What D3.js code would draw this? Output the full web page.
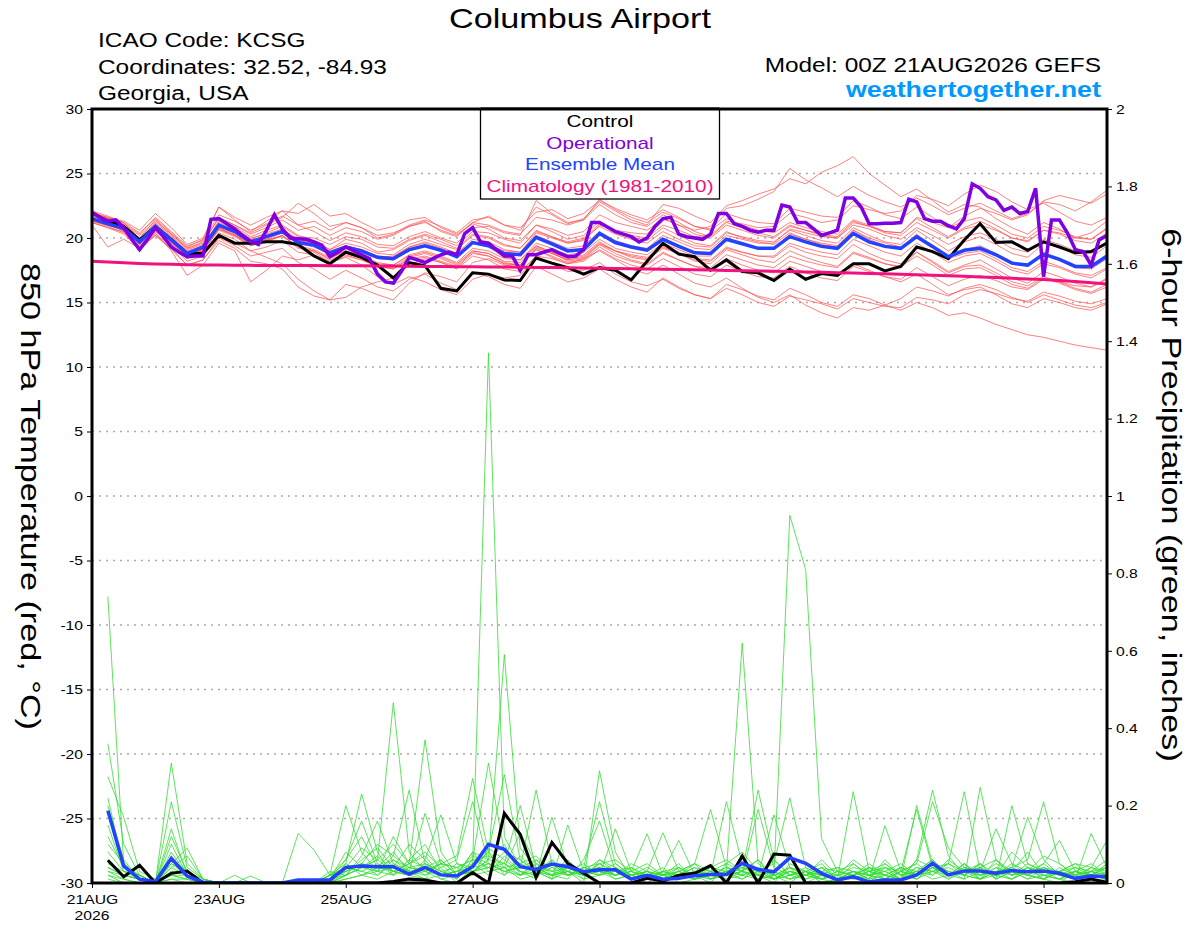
<!DOCTYPE html>
<html><head><meta charset="utf-8">
<script src="https://cdn.jsdelivr.net/npm/d3@7"></script>
<style>html,body{margin:0;padding:0;background:#fff;}svg{display:block;font-family:"Liberation Sans",Arial,Helvetica,sans-serif;}</style>
</head><body><svg id="chart" width="1200" height="927"></svg>
<script>
// ---------------- DATA ----------------
const titleText = "Columbus Airport";
const infoLines = ["ICAO Code: KCSG", "Coordinates: 32.52, -84.93", "Georgia, USA"];
const modelText = "Model: 00Z 21AUG2026 GEFS";
const siteText = "weathertogether.net";
const legendLabels = ["Control", "Operational", "Ensemble Mean", "Climatology (1981-2010)"];
const tempTicks = [-30,-25,-20,-15,-10,-5,0,5,10,15,20,25,30];
const gridTicks = [-25,-20,-15,-10,-5,0,5,10,15,20,25];
const precipTicks = [0,0.2,0.4,0.6,0.8,1,1.2,1.4,1.6,1.8,2];
const dateTickHours = [0,48,96,144,192,264,312,360];
const dateTickLabels = ["21AUG","23AUG","25AUG","27AUG","29AUG","1SEP","3SEP","5SEP"];
const yearLabel = "2026";
const tempStepHours = 6, opStepHours = 3, precipStepHours = 6, maxHours = 384;

// 850 hPa temperature, 6-hourly from 00Z 21AUG
const controlTemp = [21.95,21.3,20.9,19.85,20.9,19.9,18.8,18.8,20.2,19.6,
19.6,19.7,19.7,19.5,18.6,18.0,18.9,18.5,17.9,16.9,
18.1,17.85,16.1,15.9,17.3,17.2,16.75,16.7,18.45,18.05,
17.7,17.2,17.7,17.5,16.75,18.2,19.6,18.75,18.55,17.5,
18.3,17.4,17.3,16.7,17.6,16.8,17.25,17.1,18.0,18.0,
17.45,17.8,19.3,18.95,18.4,19.85,21.1,19.65,19.7,19.05,
19.7,19.3,18.85,18.95,19.6];

const meanTemp = [21.5,21.1,20.75,19.7,20.9,19.85,18.8,19.3,21.0,20.5,
19.7,20.1,20.5,19.65,19.45,18.85,19.3,19.0,18.5,18.4,
19.1,19.4,19.05,18.55,19.65,19.4,18.8,18.7,20.05,19.55,
19.0,19.1,20.35,19.65,19.3,19.05,19.9,19.35,18.85,18.8,
19.9,19.55,19.2,19.2,20.1,19.7,19.35,19.2,20.35,19.7,
19.35,19.2,20.1,19.35,18.55,19.05,19.2,18.7,18.05,17.9,
18.75,18.35,17.8,17.8,18.6];

// operational run, 3-hourly
const operationalTemp = [22.0,21.6,21.3,21.4,20.8,19.9,19.1,19.9,20.8,20.1,
19.3,18.9,18.55,18.6,18.6,21.45,21.5,21.1,20.7,20.2,
19.75,19.5,20.6,21.8,20.7,20.0,19.95,19.9,19.7,19.45,
18.55,18.9,19.3,19.0,18.7,18.4,17.2,16.6,16.5,17.4,
18.5,18.3,18.1,18.4,18.7,18.9,18.7,20.35,20.8,19.7,
19.6,19.1,18.6,18.6,17.5,18.7,18.7,18.9,19.1,18.8,
18.55,18.6,19.1,21.2,21.2,20.85,20.5,20.3,20.1,19.7,
20.0,20.9,21.5,21.6,20.3,20.1,20.0,19.9,20.3,21.9,
21.9,21.1,20.9,20.6,20.45,20.6,20.6,22.55,22.4,21.2,
21.2,20.7,20.2,20.4,20.6,23.1,23.1,22.4,21.1,21.1,
21.15,21.15,21.2,23.0,22.8,21.5,21.3,21.3,20.95,20.7,
21.5,24.2,23.85,23.2,22.95,22.15,22.4,21.9,22.05,23.85,
17.0,21.4,21.4,20.4,19.1,18.95,17.9,19.85,20.2];

const climatologyTemp = [18.2,18.14,18.08,18.03,17.99,17.96,17.93,17.91,17.9,17.89,
17.88,17.87,17.87,17.86,17.86,17.85,17.85,17.84,17.83,17.82,
17.81,17.8,17.79,17.78,17.77,17.76,17.75,17.74,17.72,17.71,
17.69,17.67,17.65,17.63,17.61,17.59,17.57,17.55,17.53,17.51,
17.49,17.47,17.45,17.42,17.4,17.37,17.34,17.31,17.28,17.25,
17.22,17.19,17.15,17.11,17.07,17.03,16.98,16.93,16.88,16.83,
16.78,16.7,16.62,16.53,16.43];

// ensemble members (red)
const tempMembers = [
[21.8,21.5,21.0,20.2,21.3,20.3,19.2,19.6,21.6,21.0,20.3,20.8,21.4,20.6,20.9,20.2,20.8,20.5,19.9,20.2,20.9,21.3,20.5,20.1,21.2,21.7,21.0,20.6,22.4,21.8,21.1,21.5,22.8,22.1,21.4,21.0,22.6,22.3,21.7,21.2,22.5,22.9,23.4,23.8,24.6,24.2,25.1,25.6,26.3,25.0,24.1,23.2,23.8,22.9,22.0,22.6,22.4,21.5,20.8,20.3,21.2,20.7,20.0,20.4,21.3],
[21.3,20.9,20.4,19.3,20.2,19.2,17.9,18.3,20.0,19.4,18.6,18.9,19.2,18.1,17.6,16.8,17.5,16.9,16.2,15.9,16.8,17.2,16.5,16.0,17.3,17.0,16.4,16.1,17.8,17.2,16.6,16.9,17.6,16.8,16.2,15.8,16.9,16.2,15.6,15.3,16.4,16.0,15.5,15.2,16.1,15.6,15.0,14.7,15.6,15.3,14.8,14.4,15.0,14.6,14.0,14.2,13.8,13.3,12.9,12.5,12.3,12.0,11.7,11.5,11.3],
[22.1,21.7,21.2,19.9,21.1,20.1,19.0,19.4,21.3,20.9,20.1,20.6,21.0,20.2,19.8,19.1,19.9,19.6,18.9,19.1,19.8,20.2,19.7,19.2,20.3,20.1,19.5,19.2,20.6,20.1,19.6,19.9,20.9,20.3,19.9,19.6,20.5,19.9,19.4,19.3,20.4,20.1,19.8,19.7,20.6,20.2,19.8,19.6,20.8,20.2,19.7,19.5,20.6,19.8,19.0,19.7,20.1,19.5,18.8,18.5,19.6,19.3,18.7,18.5,19.4],
[21.6,21.2,20.7,19.5,20.6,19.5,18.4,18.8,20.4,19.9,19.0,18.5,18.0,16.8,15.9,15.2,16.4,16.1,15.6,15.2,16.5,17.3,17.0,16.6,18.1,18.4,17.9,17.7,19.2,18.8,18.3,18.6,19.6,19.0,18.5,18.3,19.2,18.8,18.2,18.0,19.1,18.7,18.3,18.1,19.0,18.5,18.1,17.8,18.9,18.5,18.0,17.7,18.9,18.2,17.4,17.9,18.3,17.6,16.9,16.5,17.4,17.0,16.5,16.2,16.8],
[21.9,21.6,21.3,20.6,21.9,20.8,19.5,20.0,22.4,21.6,21.0,21.6,22.1,21.9,22.6,21.7,21.9,21.2,20.6,20.9,21.4,21.6,20.8,20.3,21.1,20.7,20.0,19.8,21.0,20.5,19.9,20.2,21.3,20.5,20.1,19.8,20.8,20.2,19.6,19.4,20.5,20.0,19.7,19.5,20.4,19.9,19.5,19.3,20.6,19.9,19.4,19.2,20.3,19.3,18.6,19.1,19.4,18.8,18.1,17.8,18.7,18.3,17.7,17.6,18.4],
[21.4,21.0,20.6,19.6,20.8,19.7,18.6,19.2,20.8,20.3,19.6,19.9,20.4,19.6,19.3,18.7,19.2,18.9,18.4,18.3,19.0,19.4,19.0,18.5,19.7,19.5,19.0,18.9,20.4,20.0,19.6,19.8,21.0,20.6,20.4,20.3,21.5,21.0,20.6,20.9,22.3,22.5,23.0,23.6,25.4,24.5,23.9,23.2,24.0,23.3,22.8,22.4,23.1,22.5,21.8,22.3,22.7,22.1,21.5,21.9,22.8,22.6,22.1,22.8,23.7],
[21.2,20.8,20.5,19.4,20.5,19.6,18.7,19.0,20.6,20.1,19.4,19.7,20.2,19.3,19.0,18.3,18.8,18.4,17.8,17.6,18.3,18.5,18.1,17.6,18.6,18.3,17.6,17.4,18.6,18.0,17.4,17.5,18.1,17.2,16.6,16.3,16.8,16.1,15.6,15.3,16.1,15.6,15.0,14.7,15.5,15.2,14.9,14.5,15.3,15.0,14.7,14.6,15.4,15.2,14.9,15.6,16.0,15.7,15.3,15.1,15.8,15.5,15.1,14.9,15.3],
[21.7,21.3,20.9,19.8,21.0,19.9,18.9,19.4,21.1,20.6,19.9,20.4,20.9,20.1,20.0,19.5,20.1,19.9,19.3,19.2,19.9,20.3,19.9,19.4,20.5,20.4,19.9,19.6,21.0,20.7,20.2,20.5,21.8,21.2,20.9,20.6,21.5,21.0,20.3,20.0,21.0,20.6,20.2,20.0,20.9,20.6,20.3,20.1,21.3,20.9,20.4,20.2,21.2,20.6,20.0,20.7,21.0,20.6,20.0,19.7,20.6,20.3,19.8,19.6,20.4],
[21.5,21.1,20.8,19.7,20.8,19.8,18.7,19.1,20.9,20.4,19.8,20.1,20.6,19.8,19.6,19.0,19.4,19.1,18.5,18.6,19.3,19.6,19.2,18.8,19.6,19.3,18.5,18.3,19.4,18.9,18.2,18.4,19.0,18.3,17.6,17.2,17.9,17.2,16.5,16.2,16.9,16.1,15.4,15.0,15.6,14.8,14.2,13.8,14.6,14.4,14.8,15.3,16.2,15.9,15.5,16.1,16.4,16.0,15.4,15.0,15.6,15.2,14.8,14.6,15.0],
[21.8,21.4,21.0,19.9,21.2,20.2,19.1,19.5,21.2,20.7,20.0,20.3,20.7,19.9,19.7,19.1,19.6,19.3,18.8,18.7,19.5,19.9,19.5,19.1,20.2,20.0,19.4,19.2,20.5,20.1,19.7,20.0,21.1,20.5,20.2,20.0,21.0,20.6,20.1,20.2,21.3,21.1,20.8,20.9,21.9,21.6,21.2,21.4,22.5,22.2,21.9,22.1,23.3,23.0,22.5,23.4,24.1,23.6,22.8,22.2,22.7,22.0,21.3,21.0,21.6],
[21.0,19.3,19.9,19.2,20.3,19.4,18.2,18.6,20.1,19.6,19.0,19.3,19.8,18.9,18.7,18.0,18.6,18.3,17.8,17.7,18.5,18.8,18.4,17.9,19.0,18.8,18.2,18.1,19.4,18.9,18.4,18.7,19.7,19.0,18.7,18.5,19.4,18.9,18.4,18.3,19.3,18.9,18.6,18.5,19.4,18.9,18.6,18.4,19.5,18.8,18.3,18.0,18.9,18.1,17.3,17.8,17.9,17.3,16.6,16.3,17.0,16.6,16.1,15.8,16.4],
[22.0,21.6,21.1,20.3,21.6,20.5,19.4,19.8,21.8,21.3,20.6,21.1,21.7,21.0,21.3,20.6,21.2,20.8,20.0,20.3,21.0,21.4,20.9,20.4,21.4,21.6,21.0,20.8,22.0,22.2,21.5,21.9,22.9,22.3,21.8,21.4,22.2,21.6,20.9,20.6,21.5,21.0,20.6,20.4,21.2,20.8,20.5,20.3,21.4,21.0,20.5,20.4,21.5,20.8,20.1,20.8,21.3,20.7,20.0,19.8,20.6,20.4,20.0,19.9,20.8],
[21.3,21.0,20.6,19.5,20.7,19.6,18.5,19.0,20.7,20.2,19.4,19.8,20.2,19.2,19.0,18.4,19.0,18.6,18.1,17.9,18.7,19.0,18.6,18.1,19.2,19.0,18.4,18.3,19.6,19.2,18.7,18.9,19.9,19.2,18.9,18.7,19.6,19.1,18.6,18.6,19.8,19.5,19.2,19.2,20.3,19.9,19.6,19.4,20.6,20.0,19.6,19.3,20.0,19.2,18.4,18.8,19.0,18.4,17.7,17.4,18.2,17.8,17.3,17.1,17.7],
[21.6,21.2,20.5,19.3,20.4,19.0,17.1,17.9,19.6,19.0,16.6,17.5,18.6,18.3,18.7,18.2,18.7,18.3,17.8,17.6,18.4,18.6,18.2,17.8,18.9,18.6,18.0,17.9,19.1,18.6,18.1,18.3,19.3,18.6,18.2,17.9,18.8,18.3,17.8,17.7,18.7,18.3,17.9,17.7,18.6,18.2,17.9,17.7,18.8,18.4,18.0,17.8,18.6,17.9,17.1,17.6,17.7,17.1,16.4,16.1,16.9,16.5,16.0,15.7,16.2],
[21.9,21.5,21.2,20.4,21.5,20.4,19.3,19.9,22.4,21.4,20.5,21.3,22.1,21.0,20.5,19.8,20.4,20.1,19.5,19.4,20.1,20.5,20.0,19.6,20.8,20.9,20.4,20.2,22.9,21.9,21.2,21.4,22.6,21.8,21.2,20.9,21.8,21.2,20.5,20.1,21.2,20.8,20.4,20.1,21.0,20.6,20.2,20.0,21.0,20.7,20.2,19.9,20.8,20.2,19.5,20.1,20.4,19.9,19.2,18.9,19.9,19.5,19.0,18.8,19.7],
[21.4,21.0,20.6,19.6,20.6,19.7,18.6,19.1,20.7,20.2,19.6,19.9,20.1,19.4,19.1,18.5,19.0,18.6,18.0,17.9,18.6,18.9,18.5,18.0,19.0,18.8,18.1,17.9,19.1,18.5,18.0,18.2,19.1,18.4,17.9,17.6,18.4,17.8,17.2,17.0,17.9,17.4,17.0,16.9,17.8,17.3,16.9,16.7,17.8,17.4,17.0,16.8,17.7,17.0,16.3,16.8,17.1,16.7,16.2,16.0,16.8,16.6,16.3,16.2,16.9],
[21.7,21.3,20.9,19.8,21.0,20.0,18.9,19.3,21.0,20.5,19.8,20.2,20.6,19.8,19.6,18.9,19.4,19.1,18.6,18.5,19.3,19.7,19.3,18.8,19.9,19.7,19.1,18.9,20.2,19.7,19.2,19.4,20.5,19.8,19.4,19.2,20.2,19.7,19.2,19.1,20.2,19.9,19.6,19.6,20.7,20.4,20.1,20.0,21.2,20.9,20.5,20.4,21.6,21.2,20.8,21.7,22.3,21.9,21.4,21.8,22.9,23.3,23.0,22.7,23.4],
[21.2,20.8,20.3,19.1,20.2,19.1,17.9,18.3,19.8,19.2,18.2,18.0,17.6,16.2,15.5,15.2,15.4,16.2,16.6,16.9,17.9,18.4,18.1,17.7,18.8,18.6,18.0,17.9,19.3,18.8,18.3,18.5,19.5,18.8,18.3,18.0,18.9,18.3,17.8,17.5,18.4,17.9,17.5,17.3,18.2,17.8,17.4,17.1,18.0,17.5,17.0,16.6,17.2,16.4,15.6,16.0,16.2,15.6,14.9,14.6,15.3,15.0,14.6,14.4,14.9],
[21.9,21.5,21.0,20.0,21.4,20.3,19.2,19.7,21.5,21.0,20.4,21.0,21.6,22.7,21.9,20.9,21.2,20.8,20.2,20.4,20.9,21.2,20.6,20.2,21.2,21.0,20.5,20.3,21.6,21.4,21.0,21.4,23.0,22.2,21.6,21.2,22.0,21.5,20.9,20.7,21.9,21.5,21.2,21.1,22.3,22.0,21.7,21.6,22.9,22.4,21.8,21.5,22.4,21.6,20.8,21.3,21.6,21.0,20.3,20.0,20.9,20.6,20.1,19.9,20.7],
[21.5,21.1,20.7,19.6,20.7,19.7,18.7,19.1,20.8,20.2,19.5,19.8,20.2,19.3,18.9,18.1,18.5,17.9,17.0,16.4,17.0,16.6,16.0,15.6,16.8,17.2,16.9,17.1,18.6,18.4,18.0,18.4,19.5,19.0,18.6,18.4,19.3,18.8,18.3,18.2,19.2,18.9,18.6,18.6,19.6,19.2,18.9,18.7,19.9,19.4,18.9,18.6,19.6,18.9,18.1,18.6,18.8,18.2,17.5,17.2,18.0,17.7,17.2,16.9,17.6]
];

// 6-hour precipitation (inches), valid 06Z 21AUG onward
const controlPrecip = [0.059,0.016,0.046,0,0.025,0.031,0,0,0,0,0,0,0,0,0,0,
0,0,0.004,0.01,0.008,0,0,0.027,0,0.18,0.126,0.014,0.105,0.051,0.025,0,
0,0,0.012,0.005,0.02,0.025,0.045,0,0.07,0,0.075,0.072,0,0,0,0,
0,0,0,0,0,0,0,0,0,0,0,0,0,0.003,0.01,0.002];

const meanPrecip = [0.187,0.044,0.01,0.003,0.064,0.018,0.002,0,0,0,0,0,0.008,0.008,0.008,0.04,
0.044,0.042,0.042,0.023,0.04,0.021,0.018,0.042,0.1,0.087,0.042,0.035,0.049,0.042,0.029,0.034,
0.034,0.01,0.02,0.01,0.012,0.019,0.022,0.022,0.051,0.035,0.029,0.065,0.051,0.025,0.008,0.016,
0.003,0.008,0.008,0.021,0.051,0.021,0.031,0.031,0.025,0.032,0.029,0.031,0.025,0.012,0.018,0.016];

// ensemble members (green)
const precipMembers = [
[0.74,0.05,0.01,0,0.04,0.02,0,0,0,0,0,0,0,0,0.02,0.2,0.08,0.03,0.12,0.05,0.02,0.04,0,0.03,0.06,0.1,0.02,0.05,0.01,0.03,0,0.29,0.08,0.01,0.03,0,0.02,0.01,0.04,0.06,0.03,0.02,0,0.05,0.03,0.01,0,0.02,0,0.04,0.01,0.06,0.24,0.07,0.02,0.05,0.01,0.03,0.08,0.02,0.01,0,0.03,0.04],
[0.36,0.1,0.02,0,0.06,0.03,0,0,0,0,0,0,0,0,0,0.05,0.23,0.08,0.02,0.06,0.1,0.03,0.01,0.05,0.02,0.07,0.03,0.01,0.06,0.02,0.04,0.21,0.05,0.02,0,0.03,0.01,0.02,0,0.05,0.08,0.03,0.01,0.02,0.04,0,0.01,0.05,0.02,0,0.03,0.05,0.21,0.09,0.04,0.01,0.06,0.02,0.03,0.07,0.05,0.02,0,0.01],
[0.275,0.17,0.03,0.01,0.05,0.02,0,0,0,0,0,0,0,0,0.01,0.06,0.16,0.05,0.03,0.02,0.06,0.01,0,0.04,0.08,0.02,0.05,0.03,0.02,0.01,0.06,0.16,0.03,0.01,0.02,0.04,0,0.01,0.03,0.02,0.05,0.01,0.02,0.04,0,0.02,0.01,0.03,0.01,0.06,0.02,0.01,0.04,0.05,0.236,0.03,0.02,0.08,0.04,0.01,0,0.03,0.02,0.04],
[0.22,0.04,0.02,0,0.31,0.05,0.01,0,0,0,0,0,0,0,0.03,0.02,0.07,0.16,0.05,0.03,0.01,0.06,0.02,0.08,0.03,0.04,0.01,0.02,0.05,0.03,0.01,0.02,0.14,0.03,0.01,0.02,0.05,0.01,0.02,0.03,0.01,0.04,0.02,0,0.03,0.01,0.02,0.06,0.03,0.01,0.04,0.02,0.05,0.03,0.01,0.247,0.06,0.02,0.04,0.01,0.03,0.05,0.02,0.01],
[0.2,0.06,0.01,0,0.05,0.03,0,0,0,0,0,0,0,0,0,0.04,0.09,0.06,0.466,0.08,0.03,0.05,0.01,0.06,0.04,0.02,0.07,0.03,0.01,0.04,0.02,0.05,0.02,0.03,0.127,0.02,0.04,0.01,0.02,0.03,0.05,0.02,0.01,0.03,0.02,0.04,0.01,0.02,0.05,0.02,0.01,0.03,0.06,0.02,0.04,0.03,0.14,0.05,0.02,0.01,0.04,0.02,0.03,0.06],
[0.18,0.05,0.02,0,0.21,0.04,0.01,0,0,0,0,0,0,0,0.02,0.03,0.05,0.1,0.07,0.24,0.05,0.02,0.03,0.07,0.05,0.03,0.02,0.06,0.04,0.02,0.03,0.04,0.01,0.02,0.03,0.13,0.03,0.05,0.01,0.02,0.03,0.06,0.01,0.02,0.03,0,0.01,0.02,0.04,0.01,0.03,0.05,0.02,0.06,0.03,0.04,0.01,0.2,0.05,0.03,0.02,0.01,0.04,0.02],
[0.15,0.03,0.01,0,0.14,0.02,0,0,0,0,0,0,0,0,0.01,0.08,0.04,0.06,0.1,0.05,0.37,0.08,0.02,0.03,0.06,0.05,0.02,0.04,0.03,0.06,0.02,0.03,0.05,0.02,0.01,0.03,0.11,0.02,0.04,0.03,0.02,0.01,0.06,0.02,0.01,0.03,0.02,0.01,0.03,0.05,0.02,0.04,0.03,0.01,0.05,0.02,0.03,0.04,0.17,0.06,0.02,0.03,0.01,0.05],
[0.12,0.04,0.02,0,0.12,0.03,0.01,0,0,0,0,0,0,0,0.02,0.06,0.12,0.04,0.08,0.03,0.18,0.05,0.04,0.02,0.09,0.06,0.03,0.02,0.04,0.05,0.01,0.06,0.03,0.04,0.02,0.01,0.03,0.05,0.19,0.04,0.02,0.03,0.01,0.04,0.02,0.01,0.03,0.05,0.02,0.03,0.01,0.06,0.04,0.02,0.03,0.05,0.02,0.04,0.06,0.21,0.05,0.02,0.03,0.01],
[0.1,0.05,0.01,0,0.1,0.02,0,0,0,0,0,0,0,0,0,0.02,0.06,0.09,0.04,0.1,0.06,0.176,0.05,0.03,0.04,0.08,0.06,0.03,0.02,0.04,0.03,0.02,0.04,0.01,0.03,0.02,0.01,0.03,0.02,0.21,0.05,0.02,0.03,0.01,0.02,0.04,0.01,0.03,0.02,0.01,0.03,0.02,0.05,0.03,0.02,0.01,0.04,0.03,0.02,0.05,0.11,0.03,0.02,0.01],
[0.08,0.03,0.02,0,0.06,0.03,0,0,0,0,0,0,0,0,0.01,0.03,0.05,0.02,0.06,0.04,0.03,0.05,0.07,0.27,0.08,0.04,0.05,0.03,0.06,0.02,0.04,0.03,0.02,0.05,0.03,0.01,0.02,0.04,0.01,0.03,0.62,0.05,0.02,0.03,0.01,0.02,0.04,0.03,0.01,0.05,0.02,0.03,0.06,0.02,0.04,0.03,0.02,0.05,0.03,0.04,0.02,0.01,0.128,0.04],
[0.06,0.02,0.01,0,0.08,0.02,0,0,0,0,0,0,0,0,0,0.02,0.04,0.07,0.03,0.05,0.08,0.04,0.06,0.21,0.05,0.03,0.04,0.06,0.02,0.03,0.02,0.04,0.03,0.02,0.04,0.02,0.03,0.01,0.02,0.04,0.03,0.24,0.06,0.02,0.03,0.01,0.02,0.04,0.03,0.02,0.04,0.01,0.03,0.05,0.02,0.04,0.06,0.03,0.02,0.01,0.03,0.05,0.04,0.11],
[0.05,0.03,0.02,0,0.05,0.09,0.01,0,0,0,0,0,0,0,0.01,0.04,0.03,0.05,0.02,0.06,0.04,0.02,0.03,0.05,1.37,0.12,0.04,0.03,0.05,0.02,0.03,0.06,0.04,0.02,0.01,0.03,0.02,0.04,0.03,0.01,0.02,0.19,0.04,0.02,0.03,0.05,0.01,0.02,0.03,0.04,0.02,0.03,0.01,0.02,0.05,0.02,0.03,0.01,0.04,0.02,0.01,0.03,0.02,0.05],
[0.04,0.02,0.01,0,0.04,0.07,0.01,0,0,0,0,0,0,0,0.02,0.05,0.02,0.04,0.06,0.03,0.02,0.05,0.04,0.06,0.31,0.08,0.05,0.07,0.03,0.04,0.02,0.05,0.06,0.03,0.02,0.01,0.04,0.02,0.03,0.05,0.03,0.02,0.176,0.04,0.02,0.03,0.04,0.01,0.02,0.03,0.05,0.02,0.04,0.01,0.03,0.02,0.05,0.03,0.01,0.04,0.02,0.03,0.05,0.02],
[0.04,0.02,0.01,0,0.03,0.03,0,0,0.02,0,0,0,0,0,0,0.03,0.05,0.03,0.07,0.04,0.05,0.03,0.02,0.08,0.06,0.59,0.09,0.04,0.02,0.05,0.03,0.04,0.02,0.03,0.05,0.02,0.01,0.03,0.02,0.04,0.03,0.06,0.02,0.95,0.81,0.115,0.03,0.02,0.04,0.03,0.01,0.02,0.03,0.04,0.02,0.05,0.01,0.03,0.02,0.04,0.03,0.02,0.01,0.03],
[0.03,0.02,0.01,0,0.02,0.02,0,0,0,0.018,0,0,0,0,0.01,0.02,0.04,0.06,0.03,0.05,0.07,0.02,0.05,0.04,0.08,0.28,0.06,0.03,0.05,0.02,0.04,0.03,0.02,0.04,0.01,0.03,0.02,0.05,0.03,0.02,0.04,0.03,0.05,0.22,0.04,0.02,0.01,0.03,0.02,0.04,0.03,0.01,0.05,0.02,0.03,0.04,0.02,0.01,0.03,0.05,0.02,0.04,0.03,0.02],
[0.03,0.01,0,0,0.02,0.01,0,0,0,0,0,0,0.128,0.085,0.02,0.04,0.03,0.02,0.05,0.03,0.04,0.06,0.02,0.03,0.05,0.04,0.13,0.05,0.03,0.02,0.04,0.05,0.03,0.01,0.02,0.03,0.04,0.02,0.01,0.03,0.02,0.04,0.01,0.03,0.02,0.06,0.02,0.03,0.01,0.02,0.04,0.03,0.02,0.05,0.03,0.02,0.04,0.02,0.05,0.03,0.01,0.02,0.04,0.03],
[0.02,0.01,0,0,0.03,0.02,0,0,0,0,0,0,0,0,0.02,0.03,0.05,0.04,0.03,0.02,0.05,0.03,0.04,0.06,0.07,0.05,0.2,0.04,0.02,0.03,0.05,0.02,0.04,0.02,0.03,0.01,0.02,0.03,0.04,0.02,0.03,0.01,0.02,0.04,0.03,0.02,0.01,0.236,0.03,0.02,0.01,0.04,0.03,0.02,0.05,0.01,0.03,0.04,0.02,0.01,0.03,0.04,0.02,0.01],
[0.02,0,0,0,0.02,0.01,0,0,0,0,0,0,0,0,0,0.02,0.04,0.03,0.02,0.04,0.03,0.02,0.03,0.04,0.05,0.03,0.04,0.24,0.05,0.03,0.02,0.04,0.02,0.03,0.01,0.02,0.03,0.01,0.02,0.03,0.04,0.02,0.03,0.01,0.02,0.04,0.03,0.02,0.01,0.148,0.03,0.02,0.04,0.03,0.02,0.01,0.03,0.02,0.04,0.03,0.02,0.01,0.03,0.02],
[0.01,0,0,0,0.01,0.01,0,0,0,0,0,0,0,0,0,0.01,0.02,0.03,0.04,0.02,0.03,0.01,0.02,0.03,0.04,0.05,0.03,0.02,0.17,0.04,0.02,0.03,0.01,0.02,0.03,0.02,0.01,0.03,0.02,0.01,0.03,0.02,0.01,0.03,0.02,0.01,0.03,0.02,0.04,0.02,0.01,0.2,0.05,0.02,0.03,0.01,0.02,0.03,0.01,0.02,0.03,0.01,0.02,0.04],
[0,0,0,0,0.01,0,0,0,0,0,0,0,0,0,0,0.01,0.02,0.01,0.03,0.02,0.01,0.02,0.03,0.02,0.03,0.04,0.02,0.03,0.01,0.15,0.03,0.02,0.03,0.01,0.02,0.01,0.03,0.02,0.01,0.02,0.01,0.03,0.02,0.01,0.03,0.02,0.01,0.03,0.02,0.01,0.03,0.19,0.04,0.02,0.01,0.03,0.02,0.01,0.03,0.02,0.01,0.03,0.02,0.01]
];

// ---------------- COLOURS / LAYOUT ----------------
const colors = {member:"#ff5050", precipMember:"#33dd33", control:"#000000", operational:"#7f00e0",
  mean:"#2342ff", clim:"#f0127e", site:"#0099ff", grid:"#aaaaaa"};
const M = {left:92, right:1107, top:109, bottom:883};
const STRETCH = 1.22;

const svg = d3.select("#chart");
const x = d3.scaleLinear().domain([0, maxHours]).range([M.left, M.right]);
const yT = d3.scaleLinear().domain([-30, 30]).range([M.bottom, M.top]);
const yP = d3.scaleLinear().domain([0, 2]).range([M.bottom, M.top]);

function stretch(sel, f){
  sel.each(function(){
    const l = this.getComputedTextLength();
    this.setAttribute("textLength", l * (f || STRETCH));
    this.setAttribute("lengthAdjust", "spacingAndGlyphs");
  });
}

svg.append("rect").attr("width",1200).attr("height",927).attr("fill","#fff");

// grid
svg.append("g").selectAll("line").data(gridTicks).join("line")
  .attr("x1", M.left).attr("x2", M.right)
  .attr("y1", d => yT(d)).attr("y2", d => yT(d))
  .attr("stroke", colors.grid).attr("stroke-width", 1.4).attr("stroke-dasharray", "2,5");

svg.append("clipPath").attr("id","clip").append("rect")
  .attr("x", M.left).attr("y", M.top).attr("width", M.right - M.left).attr("height", M.bottom - M.top);
const plot = svg.append("g").attr("clip-path","url(#clip)");

const lineT = step => d3.line().x((d,i) => x(i*step)).y(d => yT(d));
const lineP = d3.line().x((d,i) => x((i+1)*precipStepHours)).y(d => yP(d));

// members
plot.append("g").selectAll("path").data(tempMembers).join("path")
  .attr("d", lineT(tempStepHours)).attr("fill","none")
  .attr("stroke", colors.member).attr("stroke-width", 0.8).attr("stroke-opacity", 0.9);
plot.append("g").selectAll("path").data(precipMembers).join("path")
  .attr("d", lineP).attr("fill","none")
  .attr("stroke", colors.precipMember).attr("stroke-width", 0.8);

// main lines
function addLine(data, gen, color, w){
  plot.append("path").datum(data).attr("d", gen).attr("fill","none")
    .attr("stroke", color).attr("stroke-width", w).attr("stroke-linejoin","miter");
}
addLine(controlPrecip, lineP, colors.control, 3);
addLine(meanPrecip, lineP, colors.mean, 3.5);
addLine(controlTemp, lineT(tempStepHours), colors.control, 3);
addLine(meanTemp, lineT(tempStepHours), colors.mean, 3.5);
addLine(operationalTemp, lineT(opStepHours), colors.operational, 3.5);
addLine(climatologyTemp, lineT(tempStepHours), colors.clim, 3);

// axes
const axL = svg.append("g").attr("transform", `translate(${M.left},0)`)
  .call(d3.axisLeft(yT).tickValues(tempTicks).tickSize(5).tickPadding(4).tickFormat(d => String(d)));
const axR = svg.append("g").attr("transform", `translate(${M.right},0)`)
  .call(d3.axisRight(yP).tickValues(precipTicks).tickSize(5).tickPadding(4).tickFormat(d => String(+d.toFixed(1))));
const axB = svg.append("g").attr("transform", `translate(0,${M.bottom})`)
  .call(d3.axisBottom(x).tickValues(dateTickHours).tickSize(5).tickPadding(6).tickFormat((d,i) => dateTickLabels[i]));
[axL, axR, axB].forEach(a => {
  a.select(".domain").remove();
  a.selectAll(".tick line").attr("stroke","#000").attr("stroke-width",1);
  a.selectAll("text").attr("font-size",13.5).attr("fill","#000").attr("font-family",'"Liberation Sans",Arial,sans-serif');
  stretch(a.selectAll("text"), 1.16);
});
svg.append("text").attr("x", x(0)).attr("y", 920).attr("text-anchor","middle")
  .attr("font-size",13.5).text(yearLabel).call(stretch, 1.16);

// frame
svg.append("rect").attr("x", M.left).attr("y", M.top).attr("width", M.right - M.left).attr("height", M.bottom - M.top)
  .attr("fill","none").attr("stroke","#000").attr("stroke-width",3);

// legend
const lg = svg.append("g");
lg.append("rect").attr("x",480.5).attr("y",M.top).attr("width",239).attr("height",90)
  .attr("fill","#fff").attr("stroke","#000").attr("stroke-width",1.3);
const legendColors = [colors.control, colors.operational, colors.mean, colors.clim];
const legendBaselines = [127, 148.5, 170, 191.5];
lg.selectAll("text").data(legendLabels).join("text")
  .attr("x",600).attr("y",(d,i) => legendBaselines[i]).attr("text-anchor","middle")
  .attr("font-size",17).attr("fill",(d,i) => legendColors[i]).text(d => d).call(stretch);
svg.append("line").attr("x1",480.5).attr("x2",719.5).attr("y1",M.top).attr("y2",M.top).attr("stroke","#000").attr("stroke-width",3);

// titles
svg.append("text").attr("x",580).attr("y",28).attr("text-anchor","middle").attr("font-size",28)
  .text(titleText).call(stretch);
svg.selectAll(".info").data(infoLines).join("text").attr("class","info")
  .attr("x",98).attr("y",(d,i) => 47 + i*26.5).attr("font-size",20).text(d => d).call(stretch);
svg.append("text").attr("x",1101).attr("y",72).attr("text-anchor","end").attr("font-size",20)
  .text(modelText).call(stretch);
svg.append("text").attr("x",1101).attr("y",97).attr("text-anchor","end").attr("font-size",22)
  .attr("font-weight","bold").attr("fill",colors.site).text(siteText).call(stretch);

// axis titles (rotated, reading top to bottom)
svg.append("text").attr("transform","translate(21,496.5) rotate(90)").attr("text-anchor","middle")
  .attr("font-size",28).text("850 hPa Temperature (red, °C)").call(stretch);
svg.append("text").attr("transform","translate(1162,495) rotate(90)").attr("text-anchor","middle")
  .attr("font-size",28).text("6-hour Precipitation (green, inches)").call(stretch);
</script></body></html>
